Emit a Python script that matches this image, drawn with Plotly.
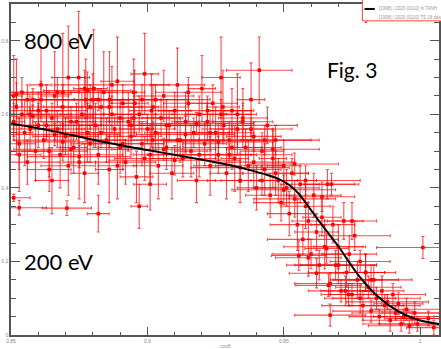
import plotly.graph_objects as go

# Measured points: cos(theta), asymmetry value, and symmetric errors
x_vals = [
    # dense band, 0.85-0.88
    0.851, 0.852, 0.853, 0.854, 0.855, 0.856, 0.857, 0.858, 0.859, 0.860,
    0.861, 0.862, 0.863, 0.864, 0.865, 0.866, 0.867, 0.868, 0.869, 0.870,
    0.871, 0.872, 0.873, 0.8748, 0.875, 0.876, 0.877, 0.878, 0.879, 0.880,
    # 0.88-0.92
    0.881, 0.882, 0.883, 0.884, 0.885, 0.886, 0.887, 0.888, 0.889, 0.890,
    0.891, 0.892, 0.893, 0.894, 0.895, 0.896, 0.897, 0.898, 0.899, 0.900,
    0.901, 0.902, 0.903, 0.904, 0.905, 0.906, 0.907, 0.908, 0.909, 0.910,
    0.911, 0.912, 0.913, 0.914, 0.915, 0.916, 0.917, 0.918, 0.919, 0.920,
    # 0.92-0.95
    0.921, 0.922, 0.923, 0.924, 0.925, 0.926, 0.927, 0.928, 0.929, 0.930,
    0.931, 0.932, 0.933, 0.934, 0.935, 0.936, 0.937, 0.938, 0.939, 0.940,
    0.941, 0.942, 0.943, 0.944, 0.945, 0.946, 0.947, 0.948, 0.949, 0.950,
    # 0.95-0.965
    0.951, 0.952, 0.953, 0.954, 0.955, 0.956, 0.957, 0.958, 0.959, 0.960,
    0.961, 0.962, 0.963, 0.964, 0.965,
    # 0.965-0.98
    0.966, 0.967, 0.968, 0.969, 0.970, 0.971, 0.972, 0.973, 0.974, 0.975,
    0.976, 0.977, 0.978, 0.979, 0.980,
    # 0.98-1.005
    0.981, 0.982, 0.983, 0.984, 0.985, 0.986, 0.987, 0.988, 0.989, 0.990,
    0.991, 0.992, 0.993, 0.994, 0.995, 0.996, 0.997, 0.998, 0.999, 1.001,
    1.003, 1.005,
    # wide-bin points
    0.852, 0.856, 0.860, 0.858, 0.863, 0.866, 0.869, 0.872, 0.875, 0.878,
    0.882, 0.886, 0.890, 0.894, 0.898, 0.902, 0.906, 0.910, 0.914, 0.918,
    0.922, 0.926, 0.930, 0.934, 0.938, 0.942, 0.946, 0.950, 0.954, 0.958,
    # large-error and low points
    0.8690, 0.8803, 0.8774, 0.8861, 0.8953, 0.851, 0.9015, 0.9277, 0.933,
    0.853, 0.851, 0.8705, 0.882, 0.897,
    0.9555, 0.959, 0.9657, 0.970, 0.962, 0.9664, 0.967, 0.9726, 0.980, 0.982,
    0.9737, 0.978, 0.9675, 0.964, 0.975,
    # second pass over the band
    0.854, 0.857, 0.861, 0.864, 0.867, 0.871, 0.874, 0.879, 0.883, 0.887,
    0.891, 0.895, 0.899, 0.903, 0.907, 0.911, 0.915, 0.919, 0.923, 0.927,
    0.931, 0.935, 0.939, 0.943, 0.947, 0.853, 0.865, 0.877, 0.889, 0.901,
]

y_vals = [
    0.58, 0.62, 0.52, 0.66, 0.55, 0.47, 0.60, 0.64, 0.50, 0.57,
    0.68, 0.53, 0.61, 0.45, 0.59, 0.65, 0.56, 0.49, 0.62, 0.54,
    0.70, 0.58, 0.51, 0.70, 0.47, 0.60, 0.67, 0.55, 0.52, 0.64,
    0.57, 0.49, 0.62, 0.66, 0.53, 0.45, 0.60, 0.56, 0.69, 0.51,
    0.63, 0.47, 0.58, 0.54, 0.66, 0.43, 0.60, 0.52, 0.71, 0.56,
    0.49, 0.62, 0.55, 0.46, 0.59, 0.65, 0.51, 0.57, 0.44, 0.61,
    0.68, 0.53, 0.48, 0.58, 0.63, 0.50, 0.55, 0.42, 0.60, 0.67,
    0.52, 0.58, 0.46, 0.63, 0.55, 0.49, 0.70, 0.57, 0.44, 0.53,
    0.61, 0.48, 0.56, 0.42, 0.59, 0.51, 0.46, 0.64, 0.54, 0.40,
    0.72, 0.50, 0.45, 0.57, 0.38, 0.48, 0.53, 0.42, 0.36, 0.46,
    0.40, 0.33, 0.44, 0.37, 0.30, 0.41, 0.26, 0.35, 0.31, 0.22,
    0.38, 0.28, 0.19, 0.32, 0.24,
    0.41, 0.14, 0.30, 0.19, 0.24, 0.12, 0.31, 0.17, 0.22, 0.11,
    0.27, 0.15, 0.20, 0.08, 0.17,
    0.13, 0.065, 0.15, 0.10, 0.05, 0.12, 0.08, 0.09, 0.04, 0.11,
    0.06, 0.085, 0.03, 0.05, 0.07, 0.025, 0.045, 0.06, 0.03, 0.238,
    0.045, 0.02,
    0.655, 0.640, 0.610, 0.595, 0.570, 0.545, 0.525, 0.505, 0.485, 0.665,
    0.640, 0.620, 0.590, 0.570, 0.640, 0.530, 0.505, 0.475, 0.545, 0.575,
    0.610, 0.525, 0.490, 0.455, 0.560, 0.420, 0.505, 0.395, 0.465, 0.420,
    0.66, 0.67, 0.64, 0.64, 0.63, 0.65, 0.61, 0.62, 0.60,
    0.346, 0.373, 0.345, 0.33, 0.35,
    0.216, 0.21, 0.235, 0.19, 0.168, 0.135, 0.054, 0.12, 0.17, 0.15,
    0.11, 0.10, 0.41, 0.376, 0.31,
    0.60, 0.56, 0.64, 0.50, 0.66, 0.46, 0.58, 0.62, 0.55, 0.68,
    0.52, 0.59, 0.48, 0.64, 0.57, 0.53, 0.66, 0.49, 0.55, 0.60,
    0.51, 0.58, 0.47, 0.53, 0.44, 0.49, 0.42, 0.44, 0.46, 0.41,
]

x_err = [
    0.004, 0.008, 0.006, 0.010, 0.003, 0.012, 0.007, 0.015, 0.005, 0.009,
    0.004, 0.011, 0.006, 0.008, 0.013, 0.005, 0.010, 0.004, 0.007, 0.012,
    0.006, 0.009, 0.005, 0.004, 0.006, 0.008, 0.004, 0.010, 0.007, 0.011,
    0.006, 0.009, 0.004, 0.012, 0.007, 0.005, 0.010, 0.014, 0.006, 0.008,
    0.005, 0.011, 0.007, 0.009, 0.004, 0.006, 0.013, 0.008, 0.005, 0.010,
    0.006, 0.012, 0.004, 0.009, 0.007, 0.011, 0.005, 0.015, 0.008, 0.006,
    0.010, 0.007, 0.012, 0.005, 0.009, 0.006, 0.013, 0.007, 0.010, 0.005,
    0.008, 0.012, 0.006, 0.009, 0.005, 0.014, 0.007, 0.010, 0.006, 0.011,
    0.008, 0.005, 0.013, 0.007, 0.009, 0.006, 0.012, 0.005, 0.010, 0.007,
    0.012, 0.008, 0.006, 0.011, 0.009, 0.005, 0.013, 0.007, 0.010, 0.006,
    0.012, 0.008, 0.006, 0.015, 0.010, 0.007, 0.013, 0.009, 0.006, 0.014,
    0.010, 0.008, 0.012, 0.007, 0.015,
    0.010, 0.013, 0.008, 0.015, 0.009, 0.012, 0.007, 0.014, 0.010, 0.008,
    0.013, 0.009, 0.011, 0.015, 0.007,
    0.012, 0.014, 0.009, 0.016, 0.011, 0.008, 0.013, 0.015, 0.010, 0.012,
    0.016, 0.009, 0.014, 0.011, 0.013, 0.015, 0.010, 0.012, 0.014, 0.017,
    0.012, 0.010,
    0.020, 0.025, 0.018, 0.022, 0.020, 0.024, 0.017, 0.021, 0.019, 0.016,
    0.023, 0.018, 0.020, 0.025, 0.017, 0.022, 0.019, 0.024, 0.018, 0.021,
    0.016, 0.020, 0.023, 0.018, 0.015, 0.020, 0.017, 0.019, 0.016, 0.020,
    0.006, 0.005, 0.004, 0.007, 0.005, 0.003, 0.008, 0.006, 0.005,
    0.010, 0.006, 0.009, 0.004, 0.003,
    0.010, 0.012, 0.008, 0.014, 0.010, 0.012, 0.013, 0.009, 0.011, 0.015,
    0.010, 0.013, 0.010, 0.012, 0.009,
    0.018, 0.012, 0.020, 0.014, 0.022, 0.010, 0.016, 0.019, 0.013, 0.021,
    0.015, 0.018, 0.011, 0.020, 0.014, 0.017, 0.012, 0.019, 0.016, 0.013,
    0.018, 0.011, 0.015, 0.020, 0.012, 0.008, 0.006, 0.005, 0.007, 0.006,
]

y_err = [
    0.05, 0.13, 0.07, 0.04, 0.09, 0.06, 0.05, 0.03, 0.08, 0.06,
    0.10, 0.05, 0.07, 0.06, 0.04, 0.12, 0.05, 0.09, 0.06, 0.05,
    0.14, 0.04, 0.07, 0.18, 0.10, 0.06, 0.05, 0.08, 0.05, 0.07,
    0.06, 0.08, 0.05, 0.11, 0.06, 0.09, 0.05, 0.04, 0.12, 0.07,
    0.05, 0.06, 0.08, 0.05, 0.09, 0.07, 0.05, 0.06, 0.11, 0.04,
    0.08, 0.06, 0.05, 0.09, 0.05, 0.07, 0.06, 0.04, 0.07, 0.05,
    0.10, 0.06, 0.05, 0.08, 0.05, 0.07, 0.04, 0.06, 0.05, 0.09,
    0.06, 0.05, 0.08, 0.05, 0.07, 0.05, 0.11, 0.04, 0.07, 0.05,
    0.06, 0.09, 0.05, 0.06, 0.08, 0.05, 0.07, 0.10, 0.04, 0.06,
    0.09, 0.05, 0.07, 0.05, 0.06, 0.08, 0.04, 0.06, 0.05, 0.07,
    0.05, 0.06, 0.04, 0.05, 0.07, 0.05, 0.04, 0.06, 0.05, 0.04,
    0.06, 0.05, 0.04, 0.05, 0.06,
    0.04, 0.03, 0.05, 0.04, 0.06, 0.03, 0.05, 0.04, 0.05, 0.03,
    0.04, 0.05, 0.03, 0.04, 0.05,
    0.03, 0.03, 0.04, 0.03, 0.02, 0.04, 0.03, 0.02, 0.03, 0.03,
    0.02, 0.03, 0.02, 0.02, 0.03, 0.02, 0.02, 0.03, 0.02, 0.03,
    0.02, 0.02,
    0.03, 0.04, 0.05, 0.03, 0.04, 0.03, 0.05, 0.04, 0.03, 0.05,
    0.03, 0.04, 0.05, 0.03, 0.04, 0.05, 0.03, 0.04, 0.05, 0.03,
    0.04, 0.05, 0.03, 0.04, 0.03, 0.04, 0.05, 0.04, 0.03, 0.04,
    0.16, 0.16, 0.11, 0.13, 0.09, 0.11, 0.10, 0.10, 0.11,
    0.02, 0.01, 0.02, 0.05, 0.06,
    0.04, 0.05, 0.04, 0.05, 0.04, 0.03, 0.03, 0.04, 0.05, 0.04,
    0.03, 0.04, 0.03, 0.04, 0.05,
    0.04, 0.06, 0.05, 0.07, 0.04, 0.08, 0.05, 0.06, 0.04, 0.05,
    0.07, 0.05, 0.06, 0.04, 0.07, 0.05, 0.04, 0.06, 0.05, 0.04,
    0.06, 0.05, 0.07, 0.04, 0.06, 0.10, 0.09, 0.08, 0.09, 0.07,
]

assert len(x_vals) == len(y_vals) == len(x_err) == len(y_err)

# Fitted curve
fit_x = [0.850, 0.865, 0.8825, 0.900, 0.919, 0.930, 0.9372, 0.944, 0.9482,
         0.952, 0.9555, 0.959, 0.9628, 0.9701, 0.9774, 0.9847, 0.992, 0.9993, 1.0069]
fit_y = [0.575, 0.555, 0.527, 0.503, 0.478, 0.462, 0.449, 0.435, 0.424,
         0.408, 0.384, 0.350, 0.311, 0.240, 0.162, 0.103, 0.064, 0.041, 0.030]

x_ticks = [0.85, 0.9, 0.95, 1.0]
x_tick_text = ["0.85", "0.9", "0.95", "1"]
y_ticks = [0, 0.2, 0.4, 0.6, 0.8]
y_tick_text = ["0", "0.2", "0.4", "0.6", "0.8"]

legend_labels = ["[1998] / 2020 (0110) fit TANH", "[1998] / 2020 (0110) TS 18 data"]

bar_color = "rgba(255,0,0,0.7)"

fig = go.Figure()
fig.add_trace(go.Scatter(
    x=x_vals, y=y_vals, mode="markers",
    marker=dict(symbol="square", size=3.5, color="#ff0000"),
    error_x=dict(type="data", array=x_err, color=bar_color, thickness=1.1, width=1.5),
    error_y=dict(type="data", array=y_err, color=bar_color, thickness=1.1, width=1.5),
    showlegend=False, cliponaxis=True,
))
fig.add_trace(go.Scatter(
    x=fit_x, y=fit_y, mode="lines",
    line=dict(color="black", width=2, shape="spline", smoothing=0.8),
    showlegend=False,
))

axis_common = dict(
    showline=True, linecolor="#555", linewidth=1.5, mirror="ticks",
    ticks="inside", tickcolor="#555", tickwidth=1,
    showgrid=False, zeroline=False,
    tickfont=dict(size=5, color="#888", family="Liberation Sans"),
)

fig.update_xaxes(
    range=[0.85, 1.0069], tickvals=x_ticks, ticktext=x_tick_text, ticklen=8,
    minor=dict(tick0=0.85, dtick=0.01, ticks="inside", ticklen=3, tickcolor="#555"),
    title=dict(text="cosθ", font=dict(size=5, color="#888"), standoff=2),
    **axis_common,
)
fig.update_yaxes(
    range=[0, 0.9], tickvals=y_ticks, ticktext=y_tick_text, ticklen=9,
    minor=dict(tick0=0, dtick=0.05, ticks="inside", ticklen=5, tickcolor="#555"),
    **axis_common,
)

# Legend box drawn in paper coordinates
fig.add_shape(type="rect", xref="paper", yref="paper", x0=0.821, x1=1.05, y0=0.949, y1=1.02,
              line=dict(color="#ff4040", width=1), fillcolor="white", layer="above")
fig.add_shape(type="line", xref="paper", yref="paper", x0=0.826, x1=0.85, y0=0.985, y1=0.985,
              line=dict(color="black", width=2), layer="above")
fig.add_annotation(x=0.838, y=0.96, xref="paper", yref="paper", text="▲", showarrow=False,
                   font=dict(size=4, color="#ff0000"))
for label, ypos in zip(legend_labels, [0.985, 0.96]):
    fig.add_annotation(x=0.856, y=ypos, xref="paper", yref="paper", text=label,
                       showarrow=False, xanchor="left", yanchor="middle",
                       font=dict(size=4.5, color="#999", family="Liberation Sans"))

big_font = dict(family="Lato", size=22, color="black")
fig.add_annotation(x=0.0256, y=0.889, xref="paper", yref="paper", text="800 eV",
                   showarrow=False, xanchor="left", yanchor="middle", font=big_font)
fig.add_annotation(x=0.0256, y=0.222, xref="paper", yref="paper", text="200 eV",
                   showarrow=False, xanchor="left", yanchor="middle", font=big_font)
fig.add_annotation(x=0.733, y=0.802, xref="paper", yref="paper", text="Fig. 3",
                   showarrow=False, xanchor="left", yanchor="middle",
                   font=dict(family="Lato", size=21, color="black"))

fig.update_layout(
    width=441, height=349,
    margin=dict(l=11, r=0, t=4, b=12),
    paper_bgcolor="white", plot_bgcolor="white",
)

fig.write_html("out.html", config={"displayModeBar": False})
